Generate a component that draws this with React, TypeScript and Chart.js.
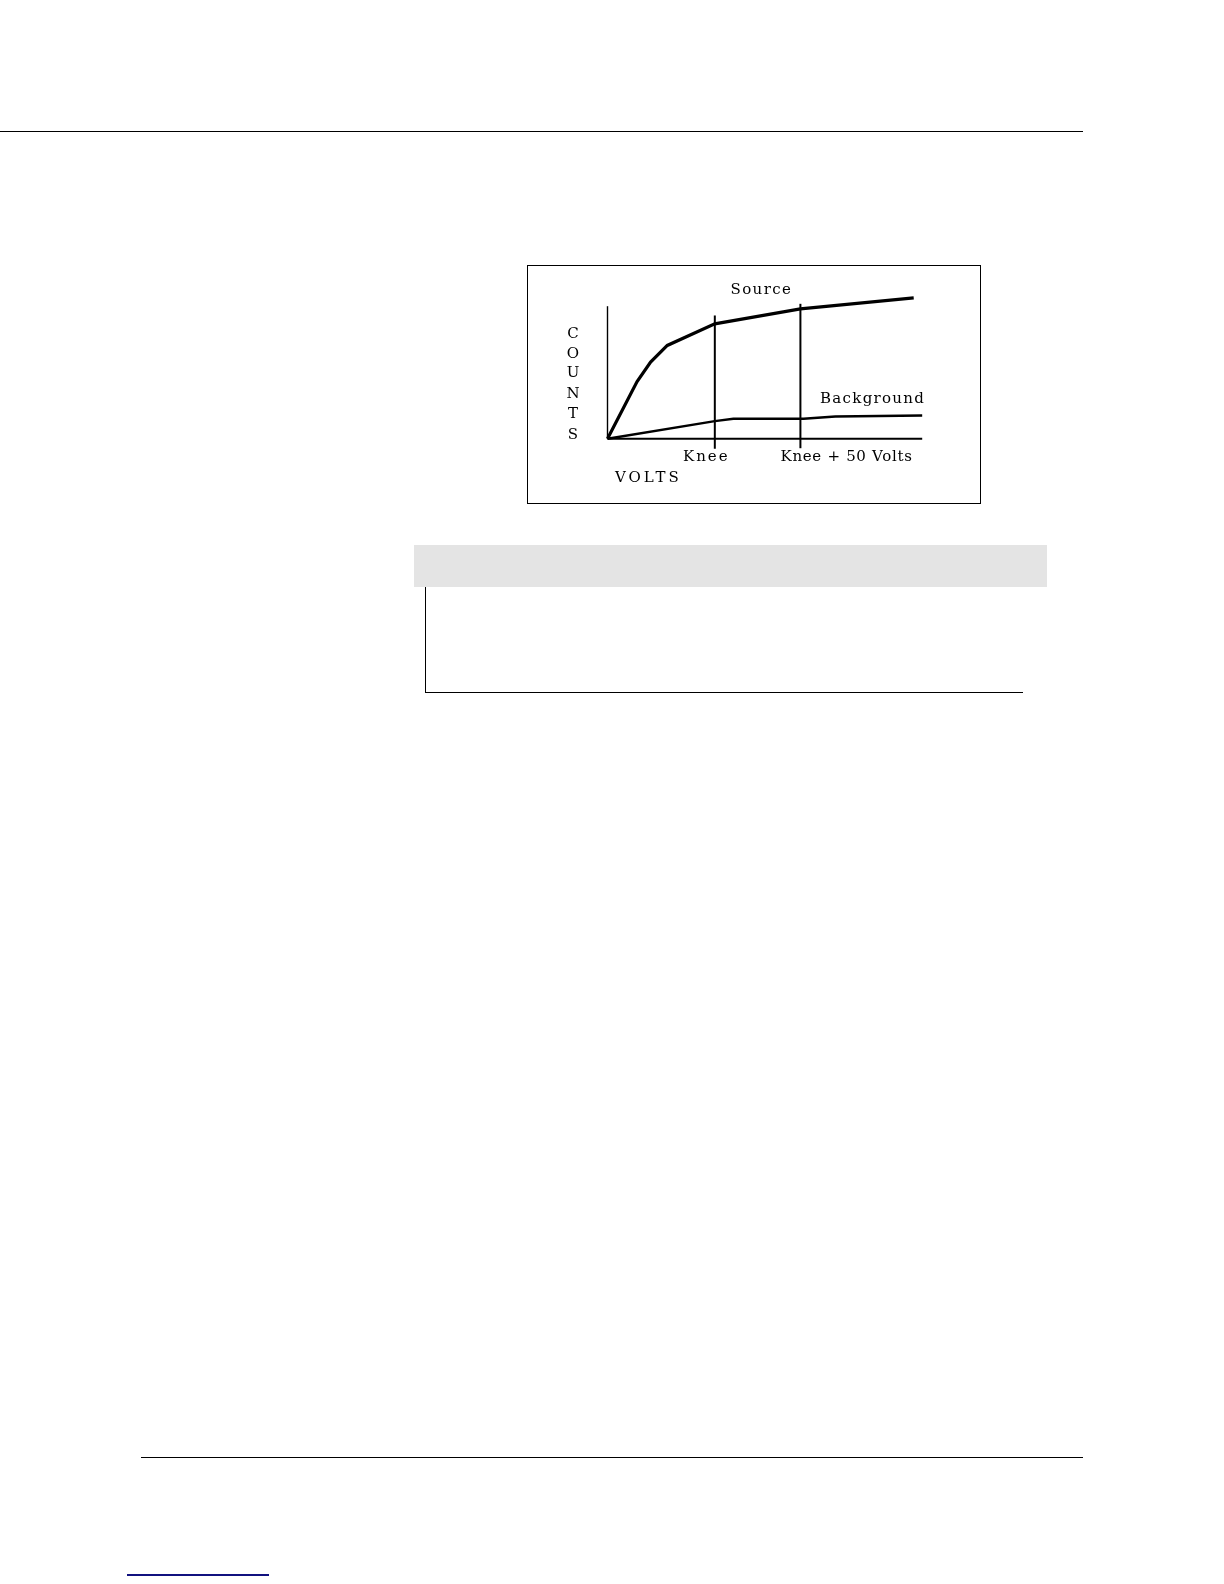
import React, { useEffect, useRef } from "react";
import { Chart, registerables } from "chart.js";

Chart.register(...registerables);

// Data (arbitrary units: volts 0..100, counts 0..100)
const sourceVolts = [0, 9.4, 13.7, 19.0, 34.1, 61.3, 97.3];
const sourceCounts = [0, 43.2, 57.9, 70.4, 86.7, 98.0, 106.3];
const backgroundVolts = [0, 34.1, 40.0, 62.3, 72.4, 100];
const backgroundCounts = [0, 13.3, 15.1, 15.1, 16.8, 17.6];
const kneeVolts = 34.1;
const kneePlus50Volts = 61.3;
const kneeLineCounts = [-7.5, 93.0];
const kneePlus50LineCounts = [-7.1, 101.8];
const axisMaxVolts = 100;
const axisMaxCounts = 100;
const yAxisLetters = ["C", "O", "U", "N", "T", "S"];
const labelSource = "Source";
const labelBackground = "Background";
const labelKnee = "Knee";
const labelKnee50 = "Knee + 50 Volts";
const labelVolts = "VOLTS";

const BOX_LEFT = 526.5;
const BOX_TOP = 264.5;
const BOX_W = 454;
const BOX_H = 239;

const FONT = '15px "DejaVu Serif"';

const drawPlugin = {
  id: "sketchDecor",
  afterDatasetsDraw(chart: any) {
    const ctx = chart.ctx as CanvasRenderingContext2D;
    const xs = chart.scales.x;
    const ys = chart.scales.y;
    ctx.save();
    ctx.strokeStyle = "#000";
    // y axis
    ctx.lineWidth = 1.4;
    ctx.beginPath();
    ctx.moveTo(xs.getPixelForValue(0), ys.getPixelForValue(0));
    ctx.lineTo(xs.getPixelForValue(0), ys.getPixelForValue(axisMaxCounts));
    ctx.stroke();
    // x axis
    ctx.lineWidth = 2;
    ctx.beginPath();
    ctx.moveTo(xs.getPixelForValue(0), ys.getPixelForValue(0));
    ctx.lineTo(xs.getPixelForValue(axisMaxVolts), ys.getPixelForValue(0));
    ctx.stroke();

    ctx.fillStyle = "#000";
    ctx.font = FONT;
    ctx.textBaseline = "middle";
    ctx.textAlign = "left";
    const ox = BOX_LEFT;
    const oy = BOX_TOP;
    (ctx as any).letterSpacing = "1.4px";
    ctx.fillText(labelSource, 730 - ox, 290 - oy);
    (ctx as any).letterSpacing = "1.3px";
    ctx.fillText(labelBackground, 819.5 - ox, 399 - oy);
    (ctx as any).letterSpacing = "2px";
    ctx.fillText(labelKnee, 682.5 - ox, 457 - oy);
    (ctx as any).letterSpacing = "0.7px";
    ctx.fillText(labelKnee50, 780 - ox, 457 - oy);
    (ctx as any).letterSpacing = "3px";
    ctx.fillText(labelVolts, 614.5 - ox, 477.5 - oy);
    (ctx as any).letterSpacing = "0px";
    ctx.textAlign = "center";
    const letterY = [333.5, 353.5, 373, 394, 414, 434.5];
    yAxisLetters.forEach((l, i) => {
      ctx.fillText(l, 572.5 - ox, letterY[i] - oy);
    });
    ctx.restore();
  },
};

export default function App() {
  const ref = useRef<HTMLCanvasElement | null>(null);

  useEffect(() => {
    if (!ref.current) return;
    const pts = (xs: number[], ys: number[]) => xs.map((x, i) => ({ x, y: ys[i] }));
    // chart-area target in page px: x 607..921.7, y(0)=438.3, y(100)=305.7
    const left = 607 - BOX_LEFT;
    const right = BOX_W - (921.7 - BOX_LEFT);
    const unit = (438.3 - 305.7) / 100;
    const top = 438.3 - 110 * unit - BOX_TOP;
    const bottom = BOX_H - (438.3 + 10 * unit - BOX_TOP);
    const chart = new Chart(ref.current, {
      type: "scatter",
      data: {
        datasets: [
          {
            label: labelSource,
            data: pts(sourceVolts, sourceCounts),
            showLine: true,
            borderColor: "#000",
            borderWidth: 3.2,
            pointRadius: 0,
            tension: 0,
            clip: false as any,
          },
          {
            label: labelBackground,
            data: pts(backgroundVolts, backgroundCounts),
            showLine: true,
            borderColor: "#000",
            borderWidth: 2.4,
            pointRadius: 0,
            tension: 0,
            clip: false as any,
          },
          {
            label: labelKnee,
            data: pts([kneeVolts, kneeVolts], kneeLineCounts),
            showLine: true,
            borderColor: "#000",
            borderWidth: 2,
            pointRadius: 0,
            clip: false as any,
          },
          {
            label: labelKnee50,
            data: pts([kneePlus50Volts, kneePlus50Volts], kneePlus50LineCounts),
            showLine: true,
            borderColor: "#000",
            borderWidth: 2,
            pointRadius: 0,
            clip: false as any,
          },
        ],
      },
      options: {
        animation: false,
        responsive: false,
        maintainAspectRatio: false,
        devicePixelRatio: 1,
        layout: {
          padding: { left, right, top, bottom },
        },
        plugins: {
          legend: { display: false },
          tooltip: { enabled: false },
          title: { display: false },
        },
        scales: {
          x: { type: "linear", min: 0, max: 100, display: false },
          y: { type: "linear", min: -10, max: 110, display: false },
        },
      },
      plugins: [drawPlugin],
    });
    return () => chart.destroy();
  }, []);

  const abs = (s: React.CSSProperties): React.CSSProperties => ({ position: "absolute", ...s });

  return (
    <div style={{ position: "absolute", left: 0, top: 0, width: 1224, height: 1584, background: "#fff", overflow: "hidden" }}>
      <div style={abs({ left: 0, top: 130.5, width: 1083, height: 1.8, background: "#000" })} />
      <canvas
        ref={ref}
        width={BOX_W}
        height={BOX_H}
        style={abs({ left: BOX_LEFT, top: BOX_TOP, width: BOX_W, height: BOX_H })}
      />
      <div
        style={abs({
          left: BOX_LEFT,
          top: BOX_TOP,
          width: BOX_W,
          height: BOX_H,
          border: "1px solid #000",
          boxSizing: "border-box",
        })}
      />
      <div style={abs({ left: 414, top: 545, width: 633, height: 42, background: "#e4e4e4" })} />
      <div style={abs({ left: 424.5, top: 587, width: 1.4, height: 106, background: "#000" })} />
      <div style={abs({ left: 424.5, top: 691.8, width: 598.5, height: 1.4, background: "#000" })} />
      <div style={abs({ left: 141, top: 1456.6, width: 942, height: 1.6, background: "#000" })} />
      <div style={abs({ left: 127, top: 1574.4, width: 142, height: 1.5, background: "#11117f" })} />
    </div>
  );
}
